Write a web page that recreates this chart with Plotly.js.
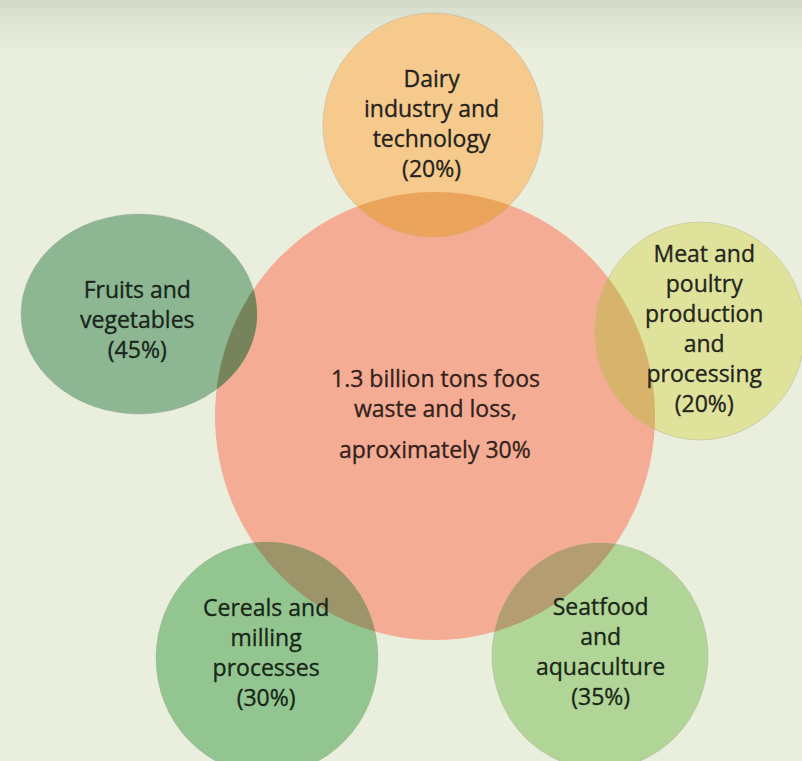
<!DOCTYPE html>
<html>
<head>
<meta charset="utf-8">
<script src="https://cdn.plot.ly/plotly-3.0.1.min.js"></script>
<style>
html,body{margin:0;padding:0;background:#eaeedd;}
.annotation-text{stroke:rgba(28,30,24,0.75);stroke-width:0.45px;}
</style>
</head>
<body>
<div id="chart" style="width:802px;height:761px;"></div>
<script>
// ---- data ----
var centerLines = ["1.3 billion tons foos<br>waste and loss,", "aproximately 30%"];
var categories = [
  "Dairy<br>industry and<br>technology",
  "Meat and<br>poultry<br>production<br>and<br>processing",
  "Fruits and<br>vegetables",
  "Cereals and<br>milling<br>processes",
  "Seatfood<br>and<br>aquaculture"
];
var shares = [20, 20, 45, 30, 35];

// ---- layout geometry (pixel-like data space) ----
var hub = {cx: 435, cy: 416, rx: 220, ry: 224};
var nodeCx = [433, 700, 139, 267, 600];
var nodeCy = [125, 331, 314, 658, 656];
var nodeRx = [110, 105, 118, 111, 108];
var nodeRy = [112, 109, 100, 116, 113];
var labelY = [123, 328, 319, 652, 651];
var labelX = [431, 704, 137, 266, 600];

// ---- styles ----
var hubColor = "#f4ad94";
var nodeColors = ["#f6c98c", "#dfe29b", "#8db793", "#92c58f", "#b1d596"];
var lensColors = ["#eba45c", "#d7b36c", "#77845b", "#9d946a", "#b49d70"];
var textColors = ["#25241f", "#25261d", "#17261a", "#162817", "#172817"];

function ellipsePoly(cx, cy, rx, ry, n) {
  var pts = [];
  for (var i = 0; i < n; i++) {
    var t = 2 * Math.PI * i / n;
    pts.push([cx + rx * Math.cos(t), cy + ry * Math.sin(t)]);
  }
  return pts;
}
// Sutherland-Hodgman clip of subject by convex clip polygon
function clip(subject, clipPoly) {
  var out = subject;
  var area = 0;
  for (var i = 0; i < clipPoly.length; i++) {
    var p = clipPoly[i], q = clipPoly[(i + 1) % clipPoly.length];
    area += p[0] * q[1] - q[0] * p[1];
  }
  var sgn = area > 0 ? 1 : -1;
  function inside(a, b, p) {
    return sgn * ((b[0] - a[0]) * (p[1] - a[1]) - (b[1] - a[1]) * (p[0] - a[0])) >= 0;
  }
  function inter(a, b, p, q) {
    var a1 = b[1] - a[1], b1 = a[0] - b[0], c1 = a1 * a[0] + b1 * a[1];
    var a2 = q[1] - p[1], b2 = p[0] - q[0], c2 = a2 * p[0] + b2 * p[1];
    var d = a1 * b2 - a2 * b1;
    return [(b2 * c1 - b1 * c2) / d, (a1 * c2 - a2 * c1) / d];
  }
  for (var j = 0; j < clipPoly.length; j++) {
    var A = clipPoly[j], B = clipPoly[(j + 1) % clipPoly.length];
    var input = out; out = [];
    if (!input.length) break;
    var S = input[input.length - 1];
    for (var k = 0; k < input.length; k++) {
      var E = input[k];
      if (inside(A, B, E)) {
        if (!inside(A, B, S)) out.push(inter(S, E, A, B));
        out.push(E);
      } else if (inside(A, B, S)) {
        out.push(inter(S, E, A, B));
      }
      S = E;
    }
  }
  return out;
}
function toPath(pts) {
  return "M " + pts.map(function (p) { return p[0].toFixed(2) + "," + p[1].toFixed(2); }).join(" L ") + " Z";
}

var shapes = [];
var bandColors = ["#d5dbca", "#dae0cf", "#dee3d2", "#e1e6d5", "#e4e8d8", "#e7ebdb"];
for (var b = 0; b < bandColors.length; b++) {
  shapes.push({type: "rect", xref: "paper", yref: "y", x0: 0, x1: 1, y0: b * 8, y1: b * 8 + 8,
    fillcolor: bandColors[b], line: {width: 0}, layer: "below"});
}
shapes.push({type: "circle", xref: "x", yref: "y",
  x0: hub.cx - hub.rx, x1: hub.cx + hub.rx, y0: hub.cy - hub.ry, y1: hub.cy + hub.ry,
  fillcolor: hubColor, line: {width: 0}});
var hubPoly = ellipsePoly(hub.cx, hub.cy, hub.rx, hub.ry, 360);
for (var i = 0; i < categories.length; i++) {
  shapes.push({type: "circle", xref: "x", yref: "y",
    x0: nodeCx[i] - nodeRx[i], x1: nodeCx[i] + nodeRx[i],
    y0: nodeCy[i] - nodeRy[i], y1: nodeCy[i] + nodeRy[i],
    fillcolor: nodeColors[i], line: {width: 0.6, color: "rgba(150,150,140,0.5)"}});
  var lens = clip(ellipsePoly(nodeCx[i], nodeCy[i], nodeRx[i], nodeRy[i], 360), hubPoly);
  if (lens.length > 2) {
    shapes.push({type: "path", xref: "x", yref: "y", path: toPath(lens),
      fillcolor: lensColors[i], line: {width: 0}});
  }
}

var fontFamily = "Open Sans, Noto Sans, sans-serif";
var annotations = [];
for (var i = 0; i < categories.length; i++) {
  annotations.push({x: labelX[i], y: labelY[i], xref: "x", yref: "y",
    text: categories[i] + "<br>(" + shares[i] + "%)", showarrow: false,
    xanchor: "center", yanchor: "middle", align: "center",
    font: {family: fontFamily, size: 23, color: textColors[i]}});
}
var centerY = [393, 449];
for (var c = 0; c < centerLines.length; c++) {
  annotations.push({x: hub.cx, y: centerY[c], xref: "x", yref: "y",
    text: centerLines[c], showarrow: false, xanchor: "center", yanchor: "middle", align: "center",
    font: {family: fontFamily, size: 23, color: "#3a221d"}});
}

var layout = {
  width: 802, height: 761,
  margin: {l: 0, r: 0, t: 0, b: 0},
  paper_bgcolor: "#eaeedd", plot_bgcolor: "rgba(0,0,0,0)",
  xaxis: {range: [0, 802], visible: false, fixedrange: true},
  yaxis: {range: [761, 0], visible: false, fixedrange: true},
  showlegend: false,
  shapes: shapes,
  annotations: annotations
};
Plotly.newPlot("chart", [{x: [], y: [], type: "scatter", hoverinfo: "skip"}], layout, {displayModeBar: false, staticPlot: true});
</script>
</body>
</html>
